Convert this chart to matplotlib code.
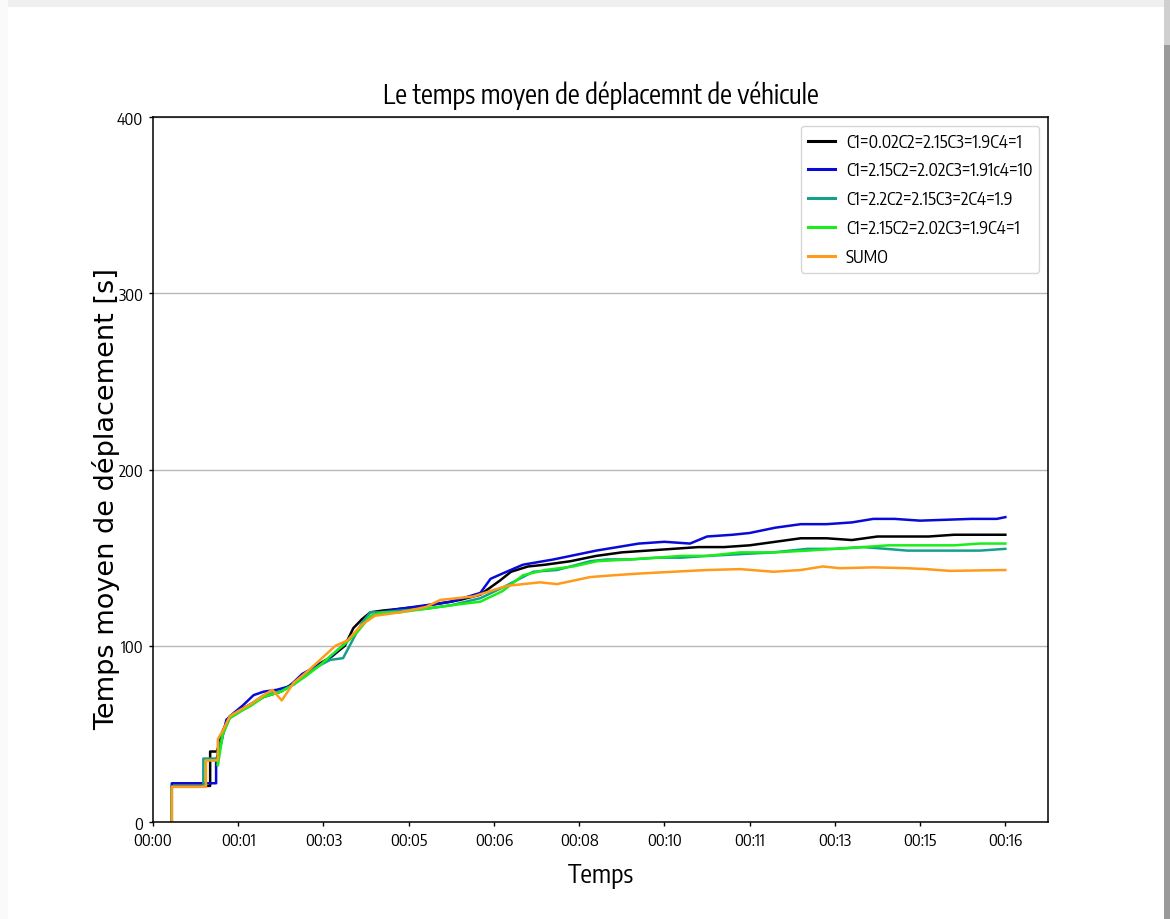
import matplotlib
matplotlib.use("Agg")
import matplotlib.pyplot as plt
import matplotlib.font_manager as fm
from matplotlib.backends.backend_agg import RendererAgg
from matplotlib.ticker import MultipleLocator, FuncFormatter
from matplotlib.patches import Rectangle

# ---------------- data (time in seconds, mean travel time in s) ----------------
labels = ["C1=0.02C2=2.15C3=1.9C4=1",
          "C1=2.15C2=2.02C3=1.91c4=10",
          "C1=2.2C2=2.15C3=2C4=1.9",
          "C1=2.15C2=2.02C3=1.9C4=1",
          "SUMO"]

t_black = [22, 22, 67, 67, 75, 82, 90, 100, 115, 130, 150, 165, 180, 196, 210, 225, 235, 245,
           255, 270, 290, 310, 337, 360, 384, 407, 420, 440, 460, 490, 520, 550, 580, 610,
           640, 670, 700, 730, 760, 790, 820, 850, 880, 910, 940, 970, 1000]
v_black = [0, 20.5, 20.5, 40, 40, 52, 60, 63, 67, 71, 74, 79, 84, 90, 94, 100, 110, 115,
           119, 120, 121, 122, 124, 126, 129, 137, 142, 145, 146, 148, 151, 153, 154, 155,
           156, 156, 157, 159, 161, 161, 160, 162, 162, 162, 163, 163, 163]

t_blue = [22, 22, 74, 74, 80, 86, 95, 105, 118, 130, 145, 160, 175, 190, 205, 220, 235, 250,
          265, 290, 320, 350, 384, 396, 410, 434, 470, 500, 520, 545, 570, 600, 630, 650,
          680, 700, 730, 760, 790, 820, 845, 870, 900, 930, 960, 990, 1000]
v_blue = [0, 22, 22, 35, 45, 58, 62, 66, 72, 74, 75, 77, 84, 88, 92, 99, 106, 114,
          119, 121, 123, 125, 130, 138, 141, 146, 149, 152, 154, 156, 158, 159, 158, 162,
          163, 164, 167, 169, 169, 170, 172, 172, 171, 171.5, 172, 172, 173]

t_teal = [22, 22, 59, 59, 76, 76, 82, 90, 100, 115, 130, 150, 165, 180, 196, 208, 223, 235,
          245, 255, 270, 290, 320, 350, 384, 410, 430, 446, 474, 513, 533, 560, 592, 620,
          650, 690, 728, 768, 800, 833, 860, 885, 910, 940, 970, 1000]
v_teal = [0, 20, 20, 36, 36, 40, 50, 59, 62, 67, 72, 74, 78, 84, 89, 92, 93, 104,
          113, 119, 119, 120, 121, 123, 127, 133, 138, 142, 143, 148, 149, 149, 150, 150,
          151, 152, 153, 155, 155, 156, 155, 154, 154, 154, 154, 155]

t_green = [22, 22, 62, 62, 76, 76, 82, 90, 100, 115, 130, 150, 165, 180, 196, 210, 225, 240,
           255, 270, 290, 320, 350, 384, 410, 434, 460, 493, 521, 560, 592, 620, 650, 689,
           730, 768, 800, 833, 863, 907, 940, 970, 1000]
v_green = [0, 20, 20, 35, 35, 32, 50, 59, 62, 66, 71, 74, 78, 83, 89, 95, 101, 108,
           117, 119, 119, 121, 123, 125, 131, 140, 143, 145, 148, 149, 150, 151, 151, 153,
           153, 154, 155, 156, 157, 157, 157, 158, 158]

t_orange = [22, 22, 62, 62, 76, 76, 82, 90, 100, 115, 130, 140, 151, 165, 180, 196, 214, 228,
            245, 260, 275, 290, 320, 337, 376, 415, 454, 474, 513, 540, 571, 610, 650, 689,
            728, 760, 786, 806, 845, 885, 907, 935, 1000]
v_orange = [0, 20, 20, 35, 35, 47, 52, 60, 63, 67, 72, 75, 69, 79, 85, 92, 100, 103,
            112, 117, 118, 119, 122, 126, 128, 134, 136, 135, 139, 140, 141, 142, 143, 143.5,
            142, 143, 145, 144, 144.5, 144, 143.5, 142.5, 143]

y_ticks = [0, 100, 200, 300, 400]

# ---------------- fonts: pick a condensed sans close to the reference width ----------------
_r = RendererAgg(100, 100, 100)
_probe = "Le temps moyen de déplacemnt de véhicule C1=0.02 400"

def _width(fp):
    w, h, d = _r.get_text_width_height_descent(_probe, fp, ismath=False)
    return w

_base = _width(fm.FontProperties(family="DejaVu Sans", size=20))
narrow_path = None
best = None
for f in fm.fontManager.ttflist:
    low = (f.name + " " + f.fname).lower()
    if any(k in low for k in ("mono", "serif", "cjk", "italic", "oblique", "bold")):
        continue
    if f.style != "normal":
        continue
    w = f.weight
    if not (w in (400, "normal", "regular", "book") or str(w) == "400"):
        continue
    if not (f.stretch != "normal" or "narrow" in low or "condensed" in low):
        continue
    try:
        ratio = _width(fm.FontProperties(fname=f.fname, size=20)) / _base
    except Exception:
        continue
    score = abs(ratio - 0.74)
    if best is None or score < best:
        best = score
        narrow_path = f.fname

def nfp(size):
    if narrow_path:
        return fm.FontProperties(fname=narrow_path, size=size)
    return fm.FontProperties(family="DejaVu Sans", size=size)

# ---------------- figure ----------------
fig = plt.figure(figsize=(11.7, 9.2), dpi=100)
fig.patch.set_facecolor("white")
ax = fig.add_axes([0.1308, 0.1054, 0.7649, 0.7663])

series = [(t_black, v_black, "black"),
          (t_blue, v_blue, "#0a0ad8"),
          (t_teal, v_teal, "#16a08c"),
          (t_green, v_green, "#1aee1a"),
          (t_orange, v_orange, "#ff9a1a")]
for (t, v, c), lab in zip(series, labels):
    ax.plot(t, v, color=c, lw=1.8, label=lab)

ax.set_xlim(0, 1050)
ax.set_ylim(0, 400)
ax.set_yticks(y_ticks)
ax.xaxis.set_major_locator(MultipleLocator(100))
ax.xaxis.set_major_formatter(FuncFormatter(lambda s, p: "00:%02d" % int(s // 60)))
ax.grid(axis="y", color="#b8b8b8", lw=1.0)
ax.set_axisbelow(True)
for sp in ax.spines.values():
    sp.set_linewidth(1.1)
ax.tick_params(length=3, width=1, pad=4)
for lbl in ax.get_xticklabels() + ax.get_yticklabels():
    lbl.set_fontproperties(nfp(11.8))

ax.set_title("Le temps moyen de déplacemnt de véhicule", fontproperties=nfp(19), pad=10)
ax.set_xlabel("Temps", fontproperties=nfp(18.5), labelpad=9)
ax.set_ylabel("Temps moyen de déplacement [s]", family="DejaVu Sans", fontsize=19.5)
ax.yaxis.set_label_coords(-0.037, 0.459)

leg = ax.legend(loc="upper right", prop=nfp(12.5), labelspacing=0.62,
                handlelength=1.6, handletextpad=0.6, borderaxespad=0.5)
for h in leg.get_lines():
    h.set_linewidth(2.2)

# card shadow around the screenshot
fig.add_artist(Rectangle((0, 0.9913), 1, 0.0087, transform=fig.transFigure,
                         facecolor="#efefef", edgecolor="none", zorder=0))
fig.add_artist(Rectangle((0, 0), 0.0068, 1, transform=fig.transFigure,
                         facecolor="#fafafa", edgecolor="none", zorder=0))
fig.add_artist(Rectangle((0.9949, 0), 0.0051, 0.95, transform=fig.transFigure,
                         facecolor="#9a9a9a", edgecolor="none", zorder=0))
fig.add_artist(Rectangle((0.9949, 0.95), 0.0051, 0.05, transform=fig.transFigure,
                         facecolor="#cfcfcf", edgecolor="none", zorder=0))

fig.savefig("out.png", dpi=100, facecolor=fig.get_facecolor())
